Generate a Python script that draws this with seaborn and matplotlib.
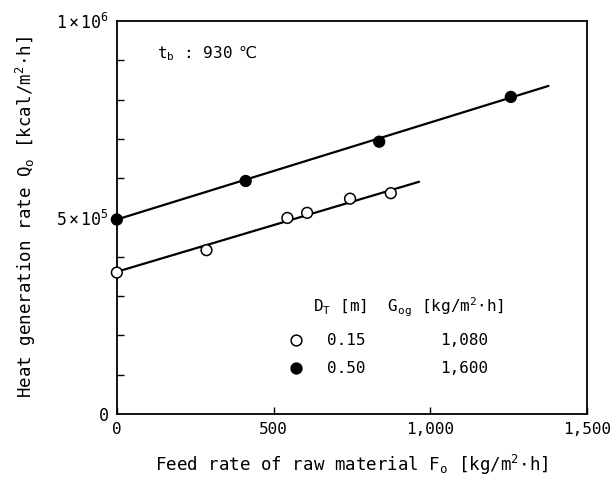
import matplotlib
matplotlib.use("Agg")
import numpy as np
import pandas as pd
import matplotlib.pyplot as plt
import seaborn as sns
from matplotlib.ticker import MultipleLocator, FixedLocator

# open circles: D_T = 0.15 m, G_og = 1,080
feed_small = [0, 286, 544, 607, 744, 874]
heat_small = [3.60e5, 4.17e5, 4.99e5, 5.12e5, 5.48e5, 5.62e5]
# filled circles: D_T = 0.50 m, G_og = 1,600
feed_large = [0, 411, 837, 1257]
heat_large = [4.95e5, 5.93e5, 6.93e5, 8.07e5]

# straight lines drawn through each series (end points)
line_small_x = [0, 964]
line_small_y = [3.62e5, 5.91e5]
line_large_x = [0, 1377]
line_large_y = [4.95e5, 8.35e5]

x_ticks = [0, 500, 1000, 1500]
x_ticklabels = ["0", "500", "1,000", "1,500"]
y_ticks = [0, 5e5, 1e6]
y_ticklabels = ["0", r"$5\times10^{5}$", r"$1\times10^{6}$"]

FONT = "DejaVu Sans Mono"
sns.set_theme(style="ticks")
plt.rcParams["font.family"] = [FONT, "DejaVu Sans"]
plt.rcParams["mathtext.fontset"] = "custom"
plt.rcParams["mathtext.rm"] = FONT
plt.rcParams["mathtext.it"] = FONT + ":italic"
plt.rcParams["mathtext.bf"] = FONT + ":bold"
plt.rcParams["text.color"] = "black"
plt.rcParams["axes.labelcolor"] = "black"

pts = pd.DataFrame({
    "feed": feed_small + feed_large,
    "heat": heat_small + heat_large,
    "dt": ["0.15"] * len(feed_small) + ["0.50"] * len(feed_large),
})
lines = pd.DataFrame({
    "feed": line_small_x + line_large_x,
    "heat": line_small_y + line_large_y,
    "dt": ["0.15"] * 2 + ["0.50"] * 2,
})

fig = plt.figure(figsize=(6.15, 4.79), dpi=100)
ax = fig.add_axes([0.190, 0.1357, 0.7645, 0.8203])

sns.lineplot(data=lines, x="feed", y="heat", units="dt", estimator=None,
             color="black", linewidth=1.6, ax=ax, legend=False)
sns.scatterplot(data=pts, x="feed", y="heat", hue="dt",
                palette={"0.15": "white", "0.50": "black"},
                edgecolor="black", linewidth=1.1, s=60, zorder=5,
                ax=ax, legend=False, clip_on=False)

ax.set_xlim(0, 1500)
ax.set_ylim(0, 1e6)
ax.xaxis.set_major_locator(FixedLocator(x_ticks))
ax.set_xticklabels(x_ticklabels)
ax.yaxis.set_major_locator(FixedLocator(y_ticks))
ax.set_yticklabels(y_ticklabels)
ax.yaxis.set_minor_locator(MultipleLocator(1e5))
ax.tick_params(which="both", direction="in", length=5, width=1.0,
               labelsize=11.5, colors="black", pad=6)
ax.tick_params(axis="y", which="major", length=0, labelsize=12)
for s in ax.spines.values():
    s.set_linewidth(1.3)
    s.set_color("black")

ax.set_xlabel(r"Feed rate of raw material F$_{\mathrm{o}}$ [kg/m$^{2}$$\cdot$h]",
              fontsize=12.6)
ax.set_ylabel(r"Heat generation rate Q$_{\mathrm{o}}$ [kcal/m$^{2}$$\cdot$h]",
              fontsize=12.6)
ax.xaxis.set_label_coords(0.5, -0.10)
ax.yaxis.set_label_coords(-0.168, 0.5)

tb = ax.text(0.085, 0.918, r"t$_{\mathrm{b}}$ : 930", transform=ax.transAxes,
             fontsize=11.5, va="center", ha="left")
ax.annotate("℃", xy=(1, 0.5), xycoords=tb, xytext=(4, 0),
            textcoords="offset points", va="center", ha="left",
            fontsize=11.5, family=["DejaVu Sans", "Noto Sans CJK JP"])

# legend table
ax.text(0.418, 0.271,
        r"D$_{\mathrm{T}}$ [m]  G$_{\mathrm{og}}$ [kg/m$^{2}$$\cdot$h]",
        transform=ax.transAxes, fontsize=11.5, va="center", ha="left")
ax.scatter([0.381], [0.188], s=60, facecolor="white", edgecolor="black",
           linewidth=1.1, transform=ax.transAxes, zorder=5)
ax.scatter([0.381], [0.117], s=60, facecolor="black", edgecolor="black",
           linewidth=1.1, transform=ax.transAxes, zorder=5)
for yy, d, g in [(0.188, "0.15", "1,080"), (0.117, "0.50", "1,600")]:
    ax.text(0.447, yy, d, transform=ax.transAxes, fontsize=11.5, va="center", ha="left")
    ax.text(0.687, yy, g, transform=ax.transAxes, fontsize=11.5, va="center", ha="left")

fig.savefig("out.png", dpi=100)
